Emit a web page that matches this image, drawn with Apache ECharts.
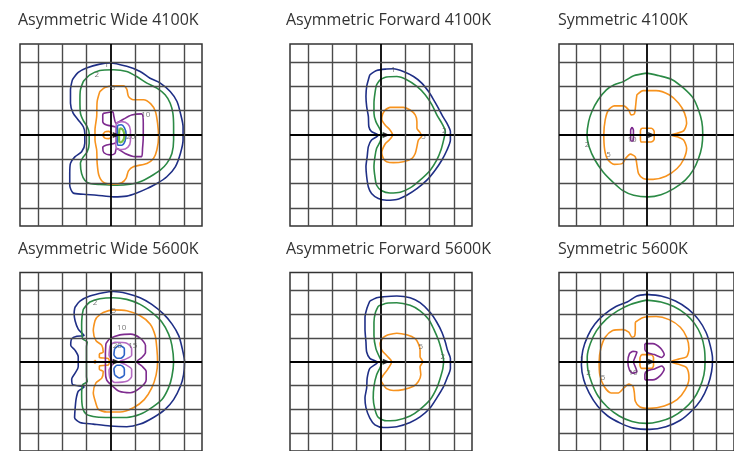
<!DOCTYPE html>
<html>
<head>
    <meta charset="utf-8">
    <script src="https://cdn.jsdelivr.net/npm/echarts@6/dist/echarts.min.js"></script>
</head>
<body style="margin:0;background:#fff;">
    <div id="main" style="width:734px;height:451px;"></div>
<script type="text/javascript">
    // titles of the six isolux plots
    var panelTitles = ['Asymmetric Wide 4100K', 'Asymmetric Forward 4100K', 'Symmetric 4100K',
                       'Asymmetric Wide 5600K', 'Asymmetric Forward 5600K', 'Symmetric 5600K'];

    // grid lines, in grid cells from the luminaire
    var gridTicks = [-3, -2, -1, 0, 1, 2, 3];

    // ---- Asymmetric Wide 4100K ----
    var wide4100_1 = [[-1.59,2.28],[-1.35,2.58],[-1.01,2.76],[-0.46,2.92],[-0.04,2.97],[0.65,2.83],[1.20,2.62],[1.61,2.34],[2.03,2.14],[2.44,1.79],[2.72,1.38],[2.86,0.90],[2.97,0.34],[2.97,-0.21],[2.86,-0.76],[2.65,-1.31],[2.30,-1.72],[1.89,-2.00],[1.48,-2.21],[1.06,-2.39],[0.65,-2.52],[0.10,-2.55],[-0.59,-2.48],[-1.14,-2.44],[-1.56,-2.39],[-1.70,-2.07],[-1.70,-1.59],[-1.67,-1.17],[-1.49,-0.90],[-1.21,-0.69],[-1.08,-0.34],[-1.08,0.07],[-1.14,0.34],[-1.35,0.62],[-1.56,0.90],[-1.67,1.31],[-1.67,1.86]];
    var wide4100_2 = [[-1.14,2.21],[-0.87,2.48],[-0.46,2.66],[0.10,2.69],[0.65,2.62],[1.06,2.41],[1.48,2.14],[1.89,1.93],[2.23,1.66],[2.44,1.31],[2.55,0.90],[2.58,0.34],[2.58,-0.21],[2.51,-0.76],[2.30,-1.17],[2.03,-1.45],[1.61,-1.72],[1.20,-1.93],[0.79,-2.03],[0.23,-2.07],[-0.46,-2.04],[-0.87,-2.00],[-1.08,-1.86],[-1.21,-1.59],[-1.26,-1.17],[-1.14,-0.90],[-0.98,-0.69],[-0.90,-0.34],[-0.90,0.07],[-0.98,0.34],[-1.14,0.59],[-1.26,0.90],[-1.28,1.45],[-1.26,1.86]];
    var wide4100_5 = [[-0.46,1.79],[-0.25,1.96],[0.10,2.03],[0.51,2.03],[0.65,1.89],[0.72,1.59],[0.92,1.45],[1.34,1.45],[1.64,1.28],[1.83,0.97],[1.92,0.48],[1.96,-0.07],[1.89,-0.62],[1.75,-0.97],[1.48,-1.17],[0.92,-1.31],[0.72,-1.48],[0.62,-1.79],[0.44,-1.97],[0.10,-2.03],[-0.32,-1.94],[-0.50,-1.66],[-0.57,-1.17],[-0.59,-0.62],[-0.66,-0.21],[-0.66,0.21],[-0.59,0.76],[-0.57,1.38]];
    var wide4100_5b = [[-0.35,0],[-0.25,0.13],[-0.10,0.15],[0.02,0.08],[0.02,-0.08],[-0.10,-0.15],[-0.25,-0.13]];
    var wide4100_10 = [[-0.32,0.89],[0.07,0.96],[0.12,0.76],[0.21,0.48],[0.51,0.65],[0.85,0.82],[1.26,0.87],[1.33,0.48],[1.33,-0.07],[1.30,-0.55],[1.26,-0.89],[0.99,-0.89],[0.58,-0.76],[0.23,-0.55],[0.16,-0.76],[-0.04,-0.82],[-0.29,-0.73],[-0.34,-0.51],[-0.18,-0.41],[0.16,-0.34],[0.26,-0.21],[0.26,0.21],[0.16,0.34],[-0.18,0.41],[-0.34,0.55],[-0.34,0.82]];
    var wide4100_20 = [[0.22,0.50],[0.45,0.55],[0.70,0.45],[0.80,0.20],[0.80,-0.25],[0.70,-0.50],[0.45,-0.60],[0.22,-0.55],[0.20,-0.30],[0.20,0.20]];
    var wide4100_30 = [[0.27,0.40],[0.42,0.42],[0.55,0.30],[0.62,0.05],[0.58,-0.25],[0.45,-0.42],[0.27,-0.42],[0.26,0.0]];
    var wide4100_50 = [[0.35,0.27],[0.45,0.25],[0.53,0.12],[0.55,-0.05],[0.50,-0.22],[0.40,-0.30],[0.34,-0.28],[0.33,0.0]];
    var wide4100_labels = [[-0.18,2.90,1],[-0.59,2.48,2],[0.07,1.93,5],[1.43,0.83,10],[0.81,-0.07,20]];

    // ---- Asymmetric Forward 4100K ----
    var fwd4100_1 = [[-0.46,2.48],[-0.18,2.66],[0.23,2.72],[0.51,2.73],[0.92,2.62],[1.34,2.41],[1.68,2.14],[1.96,1.79],[2.17,1.45],[2.37,1.10],[2.55,0.76],[2.72,0.48],[2.86,0.14],[2.86,-0.21],[2.72,-0.62],[2.51,-1.03],[2.23,-1.45],[1.89,-1.86],[1.48,-2.21],[1.06,-2.48],[0.65,-2.66],[0.23,-2.69],[-0.11,-2.62],[-0.39,-2.41],[-0.52,-2.14],[-0.59,-1.72],[-0.62,-1.31],[-0.57,-0.90],[-0.52,-0.48],[-0.39,-0.21],[-0.11,-0.01],[-0.39,0.14],[-0.50,0.34],[-0.52,0.76],[-0.59,1.17],[-0.62,1.59],[-0.59,2.00],[-0.52,2.28]];
    var fwd4100_2 = [[-0.04,2.28],[0.23,2.39],[0.65,2.41],[1.06,2.28],[1.48,2.00],[1.82,1.66],[2.10,1.24],[2.30,0.83],[2.51,0.48],[2.65,0.14],[2.58,-0.21],[2.47,-0.62],[2.30,-1.03],[2.03,-1.45],[1.61,-1.86],[1.20,-2.18],[0.79,-2.36],[0.37,-2.39],[0.03,-2.30],[-0.18,-2.07],[-0.25,-1.72],[-0.29,-1.31],[-0.25,-0.90],[-0.18,-0.55],[-0.04,-0.28],[0.04,0.00],[-0.04,0.23],[-0.21,0.55],[-0.29,0.90],[-0.29,1.31],[-0.25,1.72],[-0.18,2.07]];
    var fwd4100_5 = [[0.17,1.03],[0.37,1.14],[0.92,1.14],[1.20,1.03],[1.41,0.83],[1.48,0.55],[1.48,0.28],[1.61,0.10],[1.68,-0.04],[1.54,-0.21],[1.48,-0.48],[1.41,-0.76],[1.27,-0.97],[0.92,-1.10],[0.51,-1.14],[0.23,-1.10],[0.10,-0.97],[0.03,-0.73],[0.17,-0.37],[0.34,-0.21],[0.48,0.00],[0.37,0.21],[0.17,0.41],[0.03,0.65],[0.07,0.87]];
    var fwd4100_labels = [[0.51,2.69,1],[2.61,0.17,2],[1.75,-0.07,5]];

    // ---- Symmetric 4100K ----
    var sym4100_2 = [[0.00,2.55],[0.55,2.44],[1.10,2.28],[1.59,1.93],[2.00,1.52],[2.23,1.03],[2.37,0.55],[2.41,0.07],[2.37,-0.48],[2.23,-0.97],[2.00,-1.45],[1.66,-1.86],[1.17,-2.21],[0.62,-2.46],[0.07,-2.55],[-0.55,-2.48],[-1.03,-2.28],[-1.45,-1.93],[-1.86,-1.52],[-2.21,-1.03],[-2.46,-0.48],[-2.55,0.00],[-2.48,0.55],[-2.34,0.97],[-2.07,1.45],[-1.72,1.86],[-1.38,2.07],[-0.97,2.21],[-0.55,2.44]];
    var sym4100_5 = [[-0.41,1.66],[-0.14,1.83],[0.41,1.83],[0.97,1.66],[1.38,1.31],[1.63,0.90],[1.72,0.48],[1.59,0.17],[1.31,0.07],[1.03,0.00],[1.31,-0.07],[1.59,-0.21],[1.72,-0.55],[1.59,-1.01],[1.31,-1.38],[0.83,-1.70],[0.28,-1.83],[-0.14,-1.79],[-0.34,-1.59],[-0.41,-1.24],[-0.48,-0.90],[-0.69,-0.79],[-0.90,-0.97],[-1.03,-1.17],[-1.38,-1.21],[-1.66,-1.01],[-1.79,-0.62],[-1.83,0.00],[-1.77,0.62],[-1.63,1.03],[-1.38,1.20],[-0.99,1.20],[-0.76,1.03],[-0.66,0.83],[-0.52,0.87],[-0.47,1.17],[-0.44,1.45]];
    var sym4100_5b = [[-0.21,0.28],[0.21,0.28],[0.33,0.14],[0.33,-0.18],[0.19,-0.29],[-0.21,-0.29],[-0.26,-0.14],[-0.26,0.18]];
    var sym4100_10 = [[-0.62,0.32],[-0.56,0.20],[-0.56,-0.20],[-0.62,-0.26],[-0.68,-0.20],[-0.68,0.20]];
    var sym4100_labels = [[-2.55,-0.41,2],[-1.63,-0.80,5],[-0.62,-0.21,10]];

    // ---- Asymmetric Wide 5600K ----
    var wide5600_1 = [[-1.49,2.28],[-1.28,2.55],[-0.87,2.76],[-0.32,2.90],[0.10,2.95],[0.65,2.87],[1.20,2.69],[1.68,2.41],[2.17,2.00],[2.51,1.59],[2.79,1.10],[2.92,0.62],[3.03,0.00],[2.99,-0.55],[2.86,-1.03],[2.58,-1.59],[2.23,-2.00],[1.75,-2.34],[1.20,-2.62],[0.65,-2.73],[-0.04,-2.70],[-0.73,-2.62],[-1.28,-2.55],[-1.50,-2.35],[-1.48,-1.99],[-1.44,-1.58],[-1.35,-1.24],[-1.11,-1.06],[-1.58,-0.96],[-1.62,-0.73],[-1.48,-0.48],[-1.35,-0.21],[-1.35,0.21],[-1.48,0.48],[-1.66,0.69],[-1.62,0.96],[-1.41,1.07],[-1.11,1.10],[-1.35,1.37],[-1.48,1.72],[-1.52,2.05]];
    var wide5600_2 = [[-1.14,2.21],[-0.87,2.51],[-0.46,2.65],[0.10,2.69],[0.65,2.62],[1.20,2.41],[1.68,2.07],[2.10,1.66],[2.37,1.17],[2.51,0.69],[2.58,0.00],[2.51,-0.62],[2.37,-1.10],[2.10,-1.59],[1.68,-1.93],[1.20,-2.21],[0.65,-2.34],[-0.04,-2.34],[-0.59,-2.32],[-1.01,-2.21],[-1.17,-1.93],[-1.21,-1.38],[-1.17,-0.97],[-0.98,-0.83],[-1.01,-0.62],[-1.01,0.62],[-0.98,0.83],[-1.17,0.97],[-1.21,1.52],[-1.19,1.93]];
    var wide5600_5 = [[-0.59,1.86],[-0.32,2.07],[0.10,2.18],[0.65,2.14],[1.20,1.93],[1.61,1.59],[1.82,1.10],[1.89,0.55],[1.92,0.00],[1.86,-0.55],[1.68,-1.10],[1.37,-1.59],[0.92,-1.93],[0.37,-2.11],[-0.18,-2.11],[-0.52,-2.00],[-0.63,-1.72],[-0.73,-1.30],[-0.62,-0.89],[-0.38,-0.69],[-0.32,-0.41],[-0.48,-0.32],[-0.48,-0.18],[-0.11,-0.14],[-0.07,0.00],[-0.11,0.14],[-0.48,0.18],[-0.48,0.32],[-0.32,0.41],[-0.38,0.69],[-0.62,0.89],[-0.73,1.30],[-0.66,1.72]];
    var wide5600_5b = [[-0.68,0.05],[-0.64,0.05],[-0.64,-0.05],[-0.68,-0.05]];
    var wide5600_10 = [[-0.21,0.76],[-0.04,0.97],[0.37,1.13],[0.81,1.16],[1.20,0.99],[1.42,0.69],[1.42,0.39],[1.27,0.18],[1.06,0.00],[1.27,-0.18],[1.45,-0.41],[1.45,-0.76],[1.20,-1.10],[0.79,-1.30],[0.34,-1.24],[0.03,-0.99],[-0.18,-0.76],[-0.23,-0.41],[-0.23,0.34]];
    var wide5600_20 = [[-0.04,0.69],[0.16,0.82],[0.65,0.78],[0.85,0.55],[0.85,0.27],[0.58,0.10],[0.34,0.00],[0.58,-0.11],[0.85,-0.32],[0.85,-0.62],[0.65,-0.82],[0.16,-0.87],[-0.04,-0.69],[-0.08,-0.34],[0.10,-0.04],[-0.08,0.27]];
    var wide5600_30a = [[0.15,0.55],[0.35,0.68],[0.55,0.55],[0.55,0.30],[0.40,0.15],[0.25,0.15],[0.12,0.30]];
    var wide5600_30b = [[0.15,-0.55],[0.35,-0.68],[0.55,-0.55],[0.55,-0.30],[0.40,-0.15],[0.25,-0.15],[0.12,-0.30]];
    var wide5600_labels = [[0.03,2.92,1],[-0.66,2.48,2],[0.12,2.14,5],[0.44,1.45,10],[0.26,0.69,20],[0.90,0.66,15]];

    // ---- Asymmetric Forward 5600K ----
    var fwd5600_1 = [[-0.46,2.55],[-0.18,2.69],[0.10,2.73],[0.65,2.76],[1.20,2.69],[1.61,2.48],[2.03,2.07],[2.30,1.66],[2.51,1.24],[2.65,0.83],[2.74,0.48],[2.86,0.14],[2.86,-0.28],[2.72,-0.69],[2.55,-1.10],[2.30,-1.52],[2.03,-1.93],[1.61,-2.32],[1.20,-2.55],[0.65,-2.73],[0.10,-2.76],[-0.25,-2.65],[-0.46,-2.37],[-0.62,-1.93],[-0.66,-1.52],[-0.59,-1.10],[-0.57,-0.69],[-0.46,-0.28],[-0.15,-0.03],[-0.46,0.14],[-0.59,0.41],[-0.62,0.83],[-0.66,1.38],[-0.66,1.86],[-0.59,2.21]];
    var fwd5600_2 = [[-0.11,2.34],[0.23,2.46],[0.65,2.48],[1.20,2.37],[1.61,2.14],[1.96,1.79],[2.17,1.38],[2.37,0.90],[2.51,0.41],[2.58,0.07],[2.55,-0.28],[2.44,-0.69],[2.30,-1.10],[2.03,-1.59],[1.61,-2.00],[1.20,-2.28],[0.65,-2.46],[0.23,-2.48],[-0.11,-2.34],[-0.25,-2.00],[-0.32,-1.52],[-0.29,-1.03],[-0.18,-0.55],[-0.04,-0.25],[0.04,-0.03],[-0.07,0.21],[-0.21,0.55],[-0.29,1.10],[-0.29,1.66],[-0.23,2.07]];
    var fwd5600_5 = [[0.10,1.03],[0.30,1.13],[0.65,1.20],[1.06,1.13],[1.41,0.97],[1.54,0.76],[1.61,0.48],[1.61,0.21],[1.72,0.00],[1.61,-0.21],[1.64,-0.55],[1.54,-0.83],[1.34,-1.03],[0.92,-1.17],[0.51,-1.21],[0.23,-1.13],[0.10,-0.97],[-0.01,-0.76],[0.10,-0.55],[0.26,-0.34],[0.44,0.00],[0.26,0.23],[0.04,0.48],[-0.04,0.76]];
    var fwd5600_labels = [[0.07,2.62,1],[2.55,0.21,2],[1.64,0.62,5]];

    // ---- Symmetric 5600K ----
    var sym5600_1 = [[0.00,2.83],[0.62,2.76],[1.24,2.55],[1.79,2.21],[2.23,1.77],[2.55,1.24],[2.73,0.69],[2.83,0.14],[2.79,-0.41],[2.62,-1.03],[2.34,-1.59],[1.93,-2.07],[1.45,-2.46],[0.83,-2.73],[0.14,-2.84],[-0.55,-2.79],[-1.10,-2.59],[-1.66,-2.28],[-2.10,-1.86],[-2.46,-1.31],[-2.69,-0.76],[-2.79,-0.14],[-2.73,0.48],[-2.51,1.10],[-2.21,1.59],[-1.79,2.00],[-1.31,2.32],[-0.83,2.51],[-0.41,2.76]];
    var sym5600_2 = [[0.00,2.59],[0.62,2.51],[1.17,2.32],[1.68,2.00],[2.07,1.59],[2.34,1.10],[2.48,0.55],[2.51,0.00],[2.46,-0.55],[2.28,-1.10],[2.00,-1.59],[1.59,-2.00],[1.10,-2.32],[0.55,-2.51],[0.00,-2.59],[-0.62,-2.51],[-1.17,-2.28],[-1.68,-1.90],[-2.07,-1.45],[-2.34,-0.90],[-2.51,-0.34],[-2.54,0.21],[-2.41,0.76],[-2.14,1.31],[-1.72,1.79],[-1.24,2.14],[-0.69,2.41]];
    var sym5600_5 = [[-0.48,1.66],[-0.14,1.86],[0.41,1.90],[0.97,1.77],[1.45,1.45],[1.72,1.03],[1.82,0.55],[1.72,0.21],[1.38,0.11],[1.03,0.00],[1.38,-0.11],[1.72,-0.25],[1.82,-0.69],[1.66,-1.17],[1.31,-1.59],[0.76,-1.86],[0.14,-1.96],[-0.28,-1.90],[-0.48,-1.66],[-0.52,-1.31],[-0.58,-1.03],[-0.76,-0.94],[-0.97,-1.10],[-1.21,-1.31],[-1.52,-1.31],[-1.82,-1.03],[-2.00,-0.55],[-2.03,0.00],[-1.96,0.55],[-1.77,1.03],[-1.45,1.31],[-1.03,1.35],[-0.76,1.24],[-0.62,1.03],[-0.51,1.08],[-0.48,1.38]];
    var sym5600_5b = [[-0.21,0.30],[0.21,0.30],[0.30,0.17],[0.30,-0.17],[0.21,-0.28],[-0.21,-0.28],[-0.28,-0.14],[-0.28,0.17]];
    var sym5600_10a = [[-0.59,0.44],[-0.41,0.41],[-0.48,0.21],[-0.56,0.00],[-0.48,-0.21],[-0.41,-0.41],[-0.59,-0.48],[-0.73,-0.34],[-0.80,0.00],[-0.73,0.34]];
    var sym5600_10b = [[-0.07,0.76],[0.27,0.76],[0.59,0.58],[0.76,0.30],[0.65,0.18],[0.34,0.30],[0.04,0.38],[-0.07,0.52]];
    var sym5600_10c = [[-0.07,-0.76],[0.27,-0.76],[0.59,-0.58],[0.76,-0.30],[0.65,-0.18],[0.34,-0.30],[0.04,-0.38],[-0.07,-0.52]];
    var sym5600_labels = [[-2.76,0.14,1],[-2.48,-0.44,2],[-1.86,-0.65,5],[-0.58,-0.44,10]];

    // contour colours by isolux level
    var levelColors = {
        l1: '#1f2f86', l2: '#2b8a45', l5: '#f7931e', l10: '#7e2b8f',
        l20: '#b46ac2', l30: '#2b63c8', l50: '#79c142'
    };

    var panels = [
        { contours: [[wide4100_1,'l1'],[wide4100_2,'l2'],[wide4100_5,'l5'],[wide4100_5b,'l5'],[wide4100_10,'l10'],[wide4100_20,'l20'],[wide4100_30,'l30'],[wide4100_50,'l50']], labels: wide4100_labels },
        { contours: [[fwd4100_1,'l1'],[fwd4100_2,'l2'],[fwd4100_5,'l5']], labels: fwd4100_labels },
        { contours: [[sym4100_2,'l2'],[sym4100_5,'l5'],[sym4100_5b,'l5'],[sym4100_10,'l10']], labels: sym4100_labels },
        { contours: [[wide5600_1,'l1'],[wide5600_2,'l2'],[wide5600_5,'l5'],[wide5600_5b,'l5'],[wide5600_10,'l10'],[wide5600_20,'l20'],[wide5600_30a,'l30'],[wide5600_30b,'l30']], labels: wide5600_labels },
        { contours: [[fwd5600_1,'l1'],[fwd5600_2,'l2'],[fwd5600_5,'l5']], labels: fwd5600_labels },
        { contours: [[sym5600_1,'l1'],[sym5600_2,'l2'],[sym5600_5,'l5'],[sym5600_5b,'l5'],[sym5600_10a,'l10'],[sym5600_10b,'l10'],[sym5600_10c,'l10']], labels: sym5600_labels }
    ];

    var colLeft = [20, 290, 559];
    var rowTop = [44, 272.5];
    var titleLeft = [18, 286, 558];
    var titleTop = [12, 241];
    var size = 182;

    var option = { animation: false, backgroundColor: '#fff', title: [], grid: [], xAxis: [], yAxis: [], series: [] };

    panels.forEach(function (p, i) {
        var c = i % 3, r = Math.floor(i / 3);
        option.title.push({
            text: panelTitles[i], left: titleLeft[c], top: titleTop[r], padding: 0,
            textStyle: { fontFamily: 'Open Sans', fontSize: 16, fontWeight: 'normal', color: '#333' }
        });
        option.grid.push({
            left: colLeft[c], top: rowTop[r], width: size, height: size,
            show: true, borderColor: '#333', borderWidth: 1.5, backgroundColor: 'transparent'
        });
        var axis = { type: 'value', gridIndex: i, min: -3.75, max: 3.75, show: false };
        option.xAxis.push(Object.assign({}, axis));
        option.yAxis.push(Object.assign({}, axis));

        // grid lines
        var lines = [];
        gridTicks.forEach(function (t) {
            var st = t === 0 ? { color: '#000', width: 1.8, type: 'solid' } : { color: '#4a4a4a', width: 1.4, type: 'solid' };
            lines.push({ xAxis: t, lineStyle: st });
            lines.push({ yAxis: t, lineStyle: st });
        });
        option.series.push({
            type: 'line', xAxisIndex: i, yAxisIndex: i, data: [[0, 0]], symbol: 'none', z: 1,
            lineStyle: { width: 0 }, silent: true,
            markLine: { symbol: 'none', silent: true, label: { show: false }, data: lines, animation: false }
        });

        p.contours.forEach(function (ct) {
            option.series.push({
                type: 'line', xAxisIndex: i, yAxisIndex: i, z: 3,
                data: ct[0].concat([ct[0][0]]),
                symbol: 'none', smooth: 0.25, silent: true,
                lineStyle: { color: levelColors[ct[1]], width: ct[1] === 'l50' ? 2.2 : 1.6 }
            });
        });

        option.series.push({
            type: 'scatter', xAxisIndex: i, yAxisIndex: i, z: 4, silent: true,
            data: p.labels, symbolSize: 0,
            label: { show: true, position: 'inside', fontSize: 8, color: '#555', fontFamily: 'Open Sans',
                     formatter: function (d) { return d.value[2]; } }
        });

        // luminaire arrow
        option.series.push({
            type: 'scatter', xAxisIndex: i, yAxisIndex: i, z: 5, silent: true,
            data: [[0.22, 0]], symbol: 'triangle', symbolRotate: -90, symbolSize: [6, 7],
            itemStyle: { color: '#000' }
        });
    });

    var myChart = echarts.init(document.getElementById('main'));
    myChart.setOption(option);
</script>
</body>
</html>
